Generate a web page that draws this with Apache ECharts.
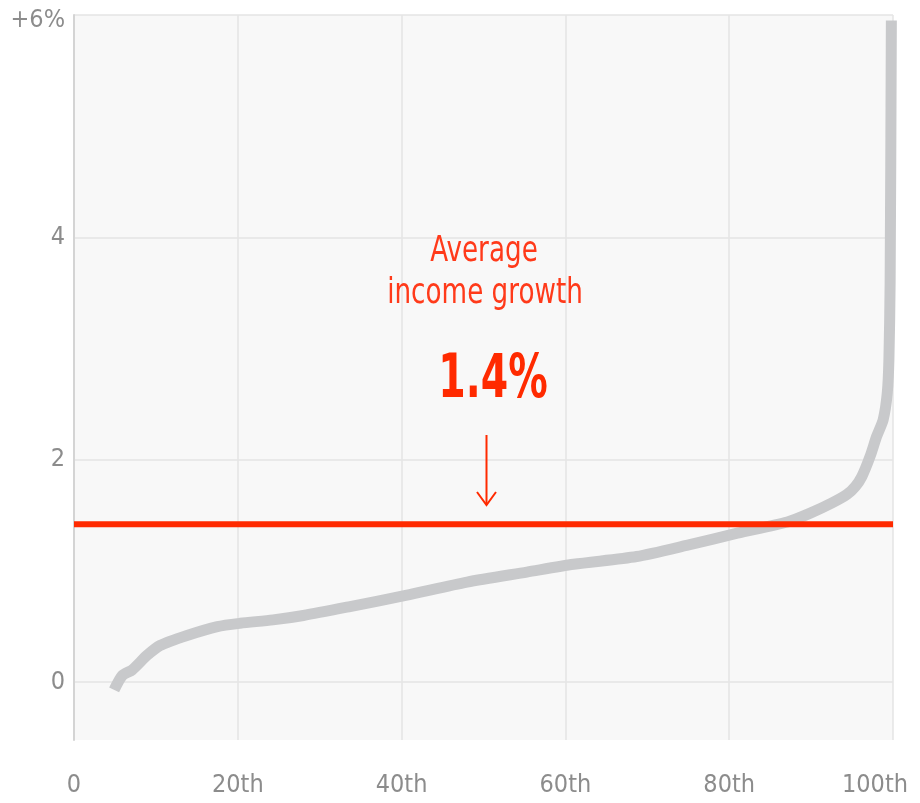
<!DOCTYPE html>
<html>
<head>
<meta charset="utf-8">
<script src="https://cdn.jsdelivr.net/npm/echarts@6/dist/echarts.min.js"></script>
<style>
html,body{margin:0;padding:0;background:#fff;}
#chart{width:920px;height:803px;}
</style>
</head>
<body>
<div id="chart"></div>
<script>
// Data
const percentiles = [4.9, 5.9, 7.1, 8.9, 10.5, 13.8, 17.5, 20.3, 24.3, 28, 33.7, 40.5, 48, 55.3, 61, 68.7, 74.8, 81, 87.1, 89.9, 92.5, 94.4, 95.4, 96.2, 97.2, 98, 98.8, 99.3, 99.5, 99.65, 99.8];
const growth      = [-0.07, 0.06, 0.11, 0.24, 0.33, 0.42, 0.50, 0.53, 0.56, 0.60, 0.68, 0.78, 0.90, 0.99, 1.06, 1.13, 1.23, 1.34, 1.44, 1.52, 1.61, 1.69, 1.76, 1.85, 2.03, 2.21, 2.36, 2.60, 2.90, 3.60, 5.95];
const averageGrowth = 1.42;
const averageSpan = [0, 100];
const xTicks = [0, 20, 40, 60, 80, 100];
const xTickLabels = ['0', '20th', '40th', '60th', '80th', '100th'];
const yTicks = [0, 2, 4, 6];
const yTickLabels = ['0', '2', '4', '+6%'];
const annotationLines = ['Average', 'income growth'];
const annotationValue = '1.4%';

const FONT = '"DejaVu Sans Condensed", "Liberation Sans", sans-serif';
const RED = '#ff2a00';
const TICK_COLOR = '#8c8c8c';
const TICK_SIZE = 25;

const chart = echarts.init(document.getElementById('chart'), null, {renderer: 'canvas'});
const option = {
  animation: false,
  grid: {left: 74, right: 27, top: 15, bottom: 63, show: true, backgroundColor: '#f8f8f8', borderWidth: 0},
  xAxis: {
    type: 'value', min: 0, max: 100, interval: 20,
    axisLine: {show: false}, axisTick: {show: false},
    splitLine: {show: true, lineStyle: {color: '#e4e4e4', width: 1.5}},
    axisLabel: {
      margin: 33, fontFamily: FONT, fontSize: TICK_SIZE, color: TICK_COLOR,
      formatter: function (v) {
        const i = xTicks.indexOf(v);
        if (i < 0) return '';
        return i === xTicks.length - 1 ? '{last|' + xTickLabels[i] + '}' : xTickLabels[i];
      },
      rich: {last: {fontFamily: FONT, fontSize: TICK_SIZE, color: TICK_COLOR, padding: [0, 36, 0, 0]}}
    }
  },
  yAxis: {
    type: 'value', min: -0.52, max: 6,
    axisLine: {show: true, lineStyle: {color: '#d4d4d4', width: 2}},
    axisTick: {show: false, customValues: yTicks},
    splitLine: {show: true, lineStyle: {color: '#e4e4e4', width: 1.5}},
    axisLabel: {
      customValues: yTicks, margin: 9, fontFamily: FONT, fontSize: TICK_SIZE, color: TICK_COLOR,
      formatter: function (v) {
        const i = yTicks.indexOf(v);
        if (i < 0) return '';
        return i === yTicks.length - 1 ? '{top|' + yTickLabels[i] + '}' : yTickLabels[i];
      },
      rich: {top: {fontFamily: FONT, fontSize: TICK_SIZE, color: TICK_COLOR, padding: [10, 0, 0, 0]}}
    }
  },
  series: [
    {
      type: 'line', z: 3, symbol: 'none', smooth: 0.25,
      data: percentiles.map((p, i) => [p, growth[i]]),
      lineStyle: {color: '#c8c9cb', width: 11, cap: 'butt', join: 'round'}
    },
    {
      type: 'line', z: 4, symbol: 'none',
      data: averageSpan.map(p => [p, averageGrowth]),
      lineStyle: {color: RED, width: 6}
    }
  ],
  graphic: [
    {type: 'text', z: 10, x: 484, y: 252, scaleX: 0.81, style: {text: annotationLines[0], x: 0, y: 0, align: 'center', verticalAlign: 'middle', font: '36px ' + FONT, fill: '#ff3a1a'}},
    {type: 'text', z: 10, x: 485, y: 294, scaleX: 0.81, style: {text: annotationLines[1], x: 0, y: 0, align: 'center', verticalAlign: 'middle', font: '36px ' + FONT, fill: '#ff3a1a'}},
    {type: 'text', z: 10, x: 493, y: 381, scaleX: 0.73, style: {text: annotationValue, x: 0, y: 0, align: 'center', verticalAlign: 'middle', font: 'bold 60px ' + FONT, fill: RED}},
    {type: 'line', z: 10, shape: {x1: 486.5, y1: 435, x2: 486.5, y2: 505}, style: {stroke: RED, lineWidth: 2}},
    {type: 'polyline', z: 10, shape: {points: [[477, 492], [486.5, 505], [496, 492]]}, style: {stroke: RED, lineWidth: 2, fill: null}}
  ]
};
chart.setOption(option);
</script>
</body>
</html>
